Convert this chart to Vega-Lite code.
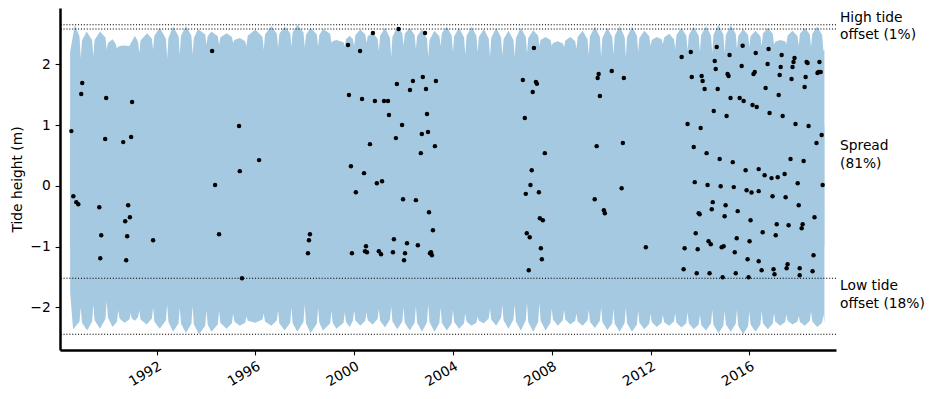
{
  "$schema": "https://vega.github.io/schema/vega-lite/v6.json",
  "width": 776,
  "height": 342,
  "autosize": {"type": "none"},
  "padding": {"left": 60, "top": 8, "right": 100, "bottom": 49},
  "config": {"view": {"stroke": null}, "font": "DejaVu Sans"},
  "datasets": {
    "top": [
      {"t": 1988.50, "hi": 2.20}, {"t": 1988.69, "hi": 2.65},
      {"t": 1988.88, "hi": 2.46}, {"t": 1988.93, "hi": 2.10}, {"t": 1988.98, "hi": 2.39}, {"t": 1989.17, "hi": 2.54},
      {"t": 1989.39, "hi": 2.40}, {"t": 1989.44, "hi": 2.13}, {"t": 1989.49, "hi": 2.40}, {"t": 1989.71, "hi": 2.54},
      {"t": 1989.93, "hi": 2.44}, {"t": 1989.98, "hi": 2.24}, {"t": 1990.03, "hi": 2.35}, {"t": 1990.22, "hi": 2.41},
      {"t": 1990.35, "hi": 2.33}, {"t": 1990.40, "hi": 2.26}, {"t": 1990.45, "hi": 2.29}, {"t": 1990.65, "hi": 2.31},
      {"t": 1990.90, "hi": 2.30}, {"t": 1991.12, "hi": 2.47},
      {"t": 1991.25, "hi": 2.37}, {"t": 1991.30, "hi": 2.18}, {"t": 1991.35, "hi": 2.39}, {"t": 1991.62, "hi": 2.51},
      {"t": 1991.81, "hi": 2.42}, {"t": 1991.86, "hi": 2.24}, {"t": 1991.91, "hi": 2.47}, {"t": 1992.13, "hi": 2.60},
      {"t": 1992.38, "hi": 2.42}, {"t": 1992.43, "hi": 2.09}, {"t": 1992.48, "hi": 2.43}, {"t": 1992.67, "hi": 2.62},
      {"t": 1992.89, "hi": 2.46}, {"t": 1992.94, "hi": 2.16}, {"t": 1992.99, "hi": 2.47}, {"t": 1993.19, "hi": 2.63},
      {"t": 1993.41, "hi": 2.47}, {"t": 1993.46, "hi": 2.16}, {"t": 1993.51, "hi": 2.43}, {"t": 1993.68, "hi": 2.58},
      {"t": 1993.97, "hi": 2.49}, {"t": 1994.02, "hi": 2.32}, {"t": 1994.07, "hi": 2.46}, {"t": 1994.22, "hi": 2.54},
      {"t": 1994.48, "hi": 2.46}, {"t": 1994.53, "hi": 2.32}, {"t": 1994.58, "hi": 2.44}, {"t": 1994.83, "hi": 2.51},
      {"t": 1995.05, "hi": 2.45}, {"t": 1995.10, "hi": 2.35}, {"t": 1995.15, "hi": 2.40}, {"t": 1995.37, "hi": 2.43},
      {"t": 1995.59, "hi": 2.38}, {"t": 1995.64, "hi": 2.29}, {"t": 1995.69, "hi": 2.47}, {"t": 1996.00, "hi": 2.57},
      {"t": 1996.29, "hi": 2.45}, {"t": 1996.34, "hi": 2.24}, {"t": 1996.39, "hi": 2.49}, {"t": 1996.65, "hi": 2.63},
      {"t": 1996.87, "hi": 2.50}, {"t": 1996.92, "hi": 2.27}, {"t": 1996.97, "hi": 2.50}, {"t": 1997.19, "hi": 2.62},
      {"t": 1997.41, "hi": 2.51}, {"t": 1997.46, "hi": 2.29}, {"t": 1997.51, "hi": 2.52}, {"t": 1997.70, "hi": 2.65},
      {"t": 1997.95, "hi": 2.52}, {"t": 1998.00, "hi": 2.27}, {"t": 1998.05, "hi": 2.48}, {"t": 1998.23, "hi": 2.60},
      {"t": 1998.49, "hi": 2.49}, {"t": 1998.54, "hi": 2.29}, {"t": 1998.59, "hi": 2.48}, {"t": 1998.74, "hi": 2.58},
      {"t": 1999.03, "hi": 2.50}, {"t": 1999.08, "hi": 2.35}, {"t": 1999.13, "hi": 2.38}, {"t": 1999.28, "hi": 2.40},
      {"t": 1999.57, "hi": 2.36}, {"t": 1999.62, "hi": 2.29}, {"t": 1999.67, "hi": 2.41}, {"t": 1999.82, "hi": 2.47},
      {"t": 1999.95, "hi": 2.41}, {"t": 2000.00, "hi": 2.30}, {"t": 2000.05, "hi": 2.48}, {"t": 2000.25, "hi": 2.57},
      {"t": 2000.45, "hi": 2.49}, {"t": 2000.50, "hi": 2.35}, {"t": 2000.55, "hi": 2.46}, {"t": 2000.75, "hi": 2.52},
      {"t": 2000.95, "hi": 2.42}, {"t": 2001.00, "hi": 2.22}, {"t": 2001.05, "hi": 2.47}, {"t": 2001.25, "hi": 2.60},
      {"t": 2001.45, "hi": 2.43}, {"t": 2001.50, "hi": 2.12}, {"t": 2001.55, "hi": 2.45}, {"t": 2001.75, "hi": 2.62},
      {"t": 2001.95, "hi": 2.51}, {"t": 2002.00, "hi": 2.30}, {"t": 2002.05, "hi": 2.50}, {"t": 2002.25, "hi": 2.60},
      {"t": 2002.45, "hi": 2.48}, {"t": 2002.50, "hi": 2.25}, {"t": 2002.55, "hi": 2.46}, {"t": 2002.75, "hi": 2.58},
      {"t": 2002.95, "hi": 2.42}, {"t": 2003.00, "hi": 2.12}, {"t": 2003.05, "hi": 2.40}, {"t": 2003.25, "hi": 2.55},
      {"t": 2003.45, "hi": 2.46}, {"t": 2003.50, "hi": 2.30}, {"t": 2003.55, "hi": 2.51}, {"t": 2003.75, "hi": 2.62},
      {"t": 2003.95, "hi": 2.47}, {"t": 2004.00, "hi": 2.20}, {"t": 2004.05, "hi": 2.46}, {"t": 2004.25, "hi": 2.60},
      {"t": 2004.45, "hi": 2.44}, {"t": 2004.50, "hi": 2.15}, {"t": 2004.55, "hi": 2.46}, {"t": 2004.75, "hi": 2.62},
      {"t": 2004.95, "hi": 2.47}, {"t": 2005.00, "hi": 2.20}, {"t": 2005.05, "hi": 2.45}, {"t": 2005.25, "hi": 2.58},
      {"t": 2005.45, "hi": 2.42}, {"t": 2005.50, "hi": 2.12}, {"t": 2005.55, "hi": 2.43}, {"t": 2005.75, "hi": 2.60},
      {"t": 2005.95, "hi": 2.44}, {"t": 2006.00, "hi": 2.14}, {"t": 2006.05, "hi": 2.41}, {"t": 2006.25, "hi": 2.55},
      {"t": 2006.45, "hi": 2.40}, {"t": 2006.50, "hi": 2.12}, {"t": 2006.55, "hi": 2.43}, {"t": 2006.75, "hi": 2.60},
      {"t": 2006.95, "hi": 2.45}, {"t": 2007.00, "hi": 2.18}, {"t": 2007.05, "hi": 2.43}, {"t": 2007.25, "hi": 2.56},
      {"t": 2007.45, "hi": 2.47}, {"t": 2007.50, "hi": 2.30}, {"t": 2007.55, "hi": 2.40}, {"t": 2007.75, "hi": 2.45},
      {"t": 2007.95, "hi": 2.40}, {"t": 2008.00, "hi": 2.30}, {"t": 2008.05, "hi": 2.35}, {"t": 2008.25, "hi": 2.38},
      {"t": 2008.45, "hi": 2.34}, {"t": 2008.50, "hi": 2.28}, {"t": 2008.55, "hi": 2.39}, {"t": 2008.75, "hi": 2.45},
      {"t": 2008.95, "hi": 2.38}, {"t": 2009.00, "hi": 2.25}, {"t": 2009.05, "hi": 2.45}, {"t": 2009.25, "hi": 2.55},
      {"t": 2009.45, "hi": 2.41}, {"t": 2009.50, "hi": 2.15}, {"t": 2009.55, "hi": 2.46}, {"t": 2009.75, "hi": 2.62},
      {"t": 2009.95, "hi": 2.45}, {"t": 2010.00, "hi": 2.12}, {"t": 2010.05, "hi": 2.43}, {"t": 2010.25, "hi": 2.60},
      {"t": 2010.45, "hi": 2.45}, {"t": 2010.50, "hi": 2.16}, {"t": 2010.55, "hi": 2.47}, {"t": 2010.75, "hi": 2.63},
      {"t": 2010.95, "hi": 2.45}, {"t": 2011.00, "hi": 2.12}, {"t": 2011.05, "hi": 2.45}, {"t": 2011.25, "hi": 2.62},
      {"t": 2011.45, "hi": 2.47}, {"t": 2011.50, "hi": 2.20}, {"t": 2011.55, "hi": 2.43}, {"t": 2011.75, "hi": 2.55},
      {"t": 2011.95, "hi": 2.46}, {"t": 2012.00, "hi": 2.30}, {"t": 2012.05, "hi": 2.40}, {"t": 2012.25, "hi": 2.45},
      {"t": 2012.45, "hi": 2.41}, {"t": 2012.50, "hi": 2.33}, {"t": 2012.55, "hi": 2.44}, {"t": 2012.75, "hi": 2.50},
      {"t": 2012.95, "hi": 2.41}, {"t": 2013.00, "hi": 2.25}, {"t": 2013.05, "hi": 2.48}, {"t": 2013.25, "hi": 2.60},
      {"t": 2013.45, "hi": 2.47}, {"t": 2013.50, "hi": 2.22}, {"t": 2013.55, "hi": 2.48}, {"t": 2013.75, "hi": 2.62},
      {"t": 2013.95, "hi": 2.47}, {"t": 2014.00, "hi": 2.20}, {"t": 2014.05, "hi": 2.48}, {"t": 2014.25, "hi": 2.63},
      {"t": 2014.45, "hi": 2.47}, {"t": 2014.50, "hi": 2.18}, {"t": 2014.55, "hi": 2.49}, {"t": 2014.75, "hi": 2.65},
      {"t": 2014.95, "hi": 2.49}, {"t": 2015.00, "hi": 2.19}, {"t": 2015.05, "hi": 2.48}, {"t": 2015.25, "hi": 2.64},
      {"t": 2015.45, "hi": 2.50}, {"t": 2015.50, "hi": 2.25}, {"t": 2015.55, "hi": 2.46}, {"t": 2015.75, "hi": 2.58},
      {"t": 2015.95, "hi": 2.48}, {"t": 2016.00, "hi": 2.28}, {"t": 2016.05, "hi": 2.46}, {"t": 2016.25, "hi": 2.55},
      {"t": 2016.45, "hi": 2.46}, {"t": 2016.50, "hi": 2.30}, {"t": 2016.55, "hi": 2.50}, {"t": 2016.75, "hi": 2.60},
      {"t": 2016.95, "hi": 2.50}, {"t": 2017.00, "hi": 2.32}, {"t": 2017.05, "hi": 2.37}, {"t": 2017.25, "hi": 2.40},
      {"t": 2017.45, "hi": 2.38}, {"t": 2017.50, "hi": 2.33}, {"t": 2017.55, "hi": 2.47}, {"t": 2017.75, "hi": 2.55},
      {"t": 2017.95, "hi": 2.46}, {"t": 2018.00, "hi": 2.30}, {"t": 2018.05, "hi": 2.50}, {"t": 2018.25, "hi": 2.60},
      {"t": 2018.45, "hi": 2.49}, {"t": 2018.50, "hi": 2.28}, {"t": 2018.55, "hi": 2.50}, {"t": 2018.75, "hi": 2.62},
      {"t": 2018.95, "hi": 2.48}, {"t": 2019.00, "hi": 2.22}, {"t": 2019.04, "hi": 2.24}
    ],
    "bot": [
      {"t": 1988.50, "lo": -1.75}, {"t": 1988.62, "lo": -2.36},
      {"t": 1988.88, "lo": -2.23}, {"t": 1988.93, "lo": -2.00}, {"t": 1988.98, "lo": -2.25}, {"t": 1989.19, "lo": -2.38},
      {"t": 1989.39, "lo": -2.23}, {"t": 1989.44, "lo": -1.95}, {"t": 1989.49, "lo": -2.21}, {"t": 1989.71, "lo": -2.35},
      {"t": 1989.93, "lo": -2.19}, {"t": 1989.98, "lo": -1.90}, {"t": 1990.03, "lo": -2.17}, {"t": 1990.22, "lo": -2.32},
      {"t": 1990.40, "lo": -2.23}, {"t": 1990.45, "lo": -2.05}, {"t": 1990.50, "lo": -2.18}, {"t": 1990.70, "lo": -2.25},
      {"t": 1990.90, "lo": -2.20}, {"t": 1990.95, "lo": -2.10}, {"t": 1991.00, "lo": -2.18}, {"t": 1991.12, "lo": -2.22},
      {"t": 1991.25, "lo": -2.16}, {"t": 1991.30, "lo": -2.05}, {"t": 1991.35, "lo": -2.20}, {"t": 1991.60, "lo": -2.28},
      {"t": 1991.81, "lo": -2.18}, {"t": 1991.86, "lo": -2.00}, {"t": 1991.91, "lo": -2.23}, {"t": 1992.13, "lo": -2.35},
      {"t": 1992.38, "lo": -2.21}, {"t": 1992.43, "lo": -1.95}, {"t": 1992.48, "lo": -2.24}, {"t": 1992.67, "lo": -2.40},
      {"t": 1992.89, "lo": -2.26}, {"t": 1992.94, "lo": -2.00}, {"t": 1992.99, "lo": -2.27}, {"t": 1993.19, "lo": -2.42},
      {"t": 1993.41, "lo": -2.27}, {"t": 1993.46, "lo": -1.98}, {"t": 1993.51, "lo": -2.28}, {"t": 1993.72, "lo": -2.44},
      {"t": 1993.97, "lo": -2.30}, {"t": 1994.02, "lo": -2.05}, {"t": 1994.07, "lo": -2.28}, {"t": 1994.22, "lo": -2.40},
      {"t": 1994.48, "lo": -2.28}, {"t": 1994.53, "lo": -2.05}, {"t": 1994.58, "lo": -2.25}, {"t": 1994.83, "lo": -2.35},
      {"t": 1995.05, "lo": -2.26}, {"t": 1995.10, "lo": -2.10}, {"t": 1995.15, "lo": -2.23}, {"t": 1995.37, "lo": -2.30},
      {"t": 1995.59, "lo": -2.25}, {"t": 1995.64, "lo": -2.15}, {"t": 1995.69, "lo": -2.22}, {"t": 1996.00, "lo": -2.25},
      {"t": 1996.29, "lo": -2.20}, {"t": 1996.34, "lo": -2.10}, {"t": 1996.39, "lo": -2.23}, {"t": 1996.65, "lo": -2.30},
      {"t": 1996.87, "lo": -2.21}, {"t": 1996.92, "lo": -2.05}, {"t": 1996.97, "lo": -2.26}, {"t": 1997.19, "lo": -2.38},
      {"t": 1997.41, "lo": -2.25}, {"t": 1997.46, "lo": -2.00}, {"t": 1997.51, "lo": -2.26}, {"t": 1997.70, "lo": -2.40},
      {"t": 1997.95, "lo": -2.24}, {"t": 1998.00, "lo": -1.95}, {"t": 1998.05, "lo": -2.26}, {"t": 1998.23, "lo": -2.42},
      {"t": 1998.49, "lo": -2.27}, {"t": 1998.54, "lo": -2.00}, {"t": 1998.59, "lo": -2.25}, {"t": 1998.74, "lo": -2.38},
      {"t": 1999.03, "lo": -2.26}, {"t": 1999.08, "lo": -2.05}, {"t": 1999.13, "lo": -2.25}, {"t": 1999.28, "lo": -2.35},
      {"t": 1999.57, "lo": -2.25}, {"t": 1999.62, "lo": -2.08}, {"t": 1999.67, "lo": -2.24}, {"t": 1999.82, "lo": -2.32},
      {"t": 1999.95, "lo": -2.22}, {"t": 2000.00, "lo": -2.05}, {"t": 2000.05, "lo": -2.21}, {"t": 2000.25, "lo": -2.30},
      {"t": 2000.45, "lo": -2.22}, {"t": 2000.50, "lo": -2.08}, {"t": 2000.55, "lo": -2.21}, {"t": 2000.75, "lo": -2.28},
      {"t": 2000.95, "lo": -2.19}, {"t": 2001.00, "lo": -2.02}, {"t": 2001.05, "lo": -2.22}, {"t": 2001.25, "lo": -2.33},
      {"t": 2001.45, "lo": -2.20}, {"t": 2001.50, "lo": -1.98}, {"t": 2001.55, "lo": -2.23}, {"t": 2001.75, "lo": -2.36},
      {"t": 2001.95, "lo": -2.23}, {"t": 2002.00, "lo": -2.00}, {"t": 2002.05, "lo": -2.25}, {"t": 2002.25, "lo": -2.38},
      {"t": 2002.45, "lo": -2.25}, {"t": 2002.50, "lo": -1.98}, {"t": 2002.55, "lo": -2.25}, {"t": 2002.75, "lo": -2.40},
      {"t": 2002.95, "lo": -2.24}, {"t": 2003.00, "lo": -1.95}, {"t": 2003.05, "lo": -2.24}, {"t": 2003.25, "lo": -2.40},
      {"t": 2003.45, "lo": -2.26}, {"t": 2003.50, "lo": -2.00}, {"t": 2003.55, "lo": -2.25}, {"t": 2003.75, "lo": -2.38},
      {"t": 2003.95, "lo": -2.26}, {"t": 2004.00, "lo": -2.04}, {"t": 2004.05, "lo": -2.24}, {"t": 2004.25, "lo": -2.35},
      {"t": 2004.45, "lo": -2.26}, {"t": 2004.50, "lo": -2.10}, {"t": 2004.55, "lo": -2.23}, {"t": 2004.75, "lo": -2.30},
      {"t": 2004.95, "lo": -2.25}, {"t": 2005.00, "lo": -2.15}, {"t": 2005.05, "lo": -2.22}, {"t": 2005.25, "lo": -2.26},
      {"t": 2005.45, "lo": -2.18}, {"t": 2005.50, "lo": -2.02}, {"t": 2005.55, "lo": -2.20}, {"t": 2005.75, "lo": -2.30},
      {"t": 2005.95, "lo": -2.17}, {"t": 2006.00, "lo": -1.96}, {"t": 2006.05, "lo": -2.21}, {"t": 2006.25, "lo": -2.35},
      {"t": 2006.45, "lo": -2.20}, {"t": 2006.50, "lo": -1.95}, {"t": 2006.55, "lo": -2.23}, {"t": 2006.75, "lo": -2.38},
      {"t": 2006.95, "lo": -2.21}, {"t": 2007.00, "lo": -1.93}, {"t": 2007.05, "lo": -2.24}, {"t": 2007.25, "lo": -2.40},
      {"t": 2007.45, "lo": -2.24}, {"t": 2007.50, "lo": -1.93}, {"t": 2007.55, "lo": -2.22}, {"t": 2007.75, "lo": -2.38},
      {"t": 2007.95, "lo": -2.25}, {"t": 2008.00, "lo": -2.02}, {"t": 2008.05, "lo": -2.20}, {"t": 2008.25, "lo": -2.30},
      {"t": 2008.45, "lo": -2.21}, {"t": 2008.50, "lo": -2.04}, {"t": 2008.55, "lo": -2.20}, {"t": 2008.75, "lo": -2.28},
      {"t": 2008.95, "lo": -2.22}, {"t": 2009.00, "lo": -2.10}, {"t": 2009.05, "lo": -2.23}, {"t": 2009.25, "lo": -2.30},
      {"t": 2009.45, "lo": -2.21}, {"t": 2009.50, "lo": -2.04}, {"t": 2009.55, "lo": -2.24}, {"t": 2009.75, "lo": -2.34},
      {"t": 2009.95, "lo": -2.22}, {"t": 2010.00, "lo": -2.00}, {"t": 2010.05, "lo": -2.24}, {"t": 2010.25, "lo": -2.37},
      {"t": 2010.45, "lo": -2.26}, {"t": 2010.50, "lo": -2.02}, {"t": 2010.55, "lo": -2.27}, {"t": 2010.75, "lo": -2.40},
      {"t": 2010.95, "lo": -2.26}, {"t": 2011.00, "lo": -2.00}, {"t": 2011.05, "lo": -2.26}, {"t": 2011.25, "lo": -2.40},
      {"t": 2011.45, "lo": -2.28}, {"t": 2011.50, "lo": -2.05}, {"t": 2011.55, "lo": -2.25}, {"t": 2011.75, "lo": -2.36},
      {"t": 2011.95, "lo": -2.27}, {"t": 2012.00, "lo": -2.10}, {"t": 2012.05, "lo": -2.24}, {"t": 2012.25, "lo": -2.32},
      {"t": 2012.45, "lo": -2.25}, {"t": 2012.50, "lo": -2.12}, {"t": 2012.55, "lo": -2.24}, {"t": 2012.75, "lo": -2.30},
      {"t": 2012.95, "lo": -2.23}, {"t": 2013.00, "lo": -2.10}, {"t": 2013.05, "lo": -2.25}, {"t": 2013.25, "lo": -2.33},
      {"t": 2013.45, "lo": -2.26}, {"t": 2013.50, "lo": -2.08}, {"t": 2013.55, "lo": -2.26}, {"t": 2013.75, "lo": -2.36},
      {"t": 2013.95, "lo": -2.28}, {"t": 2014.00, "lo": -2.12}, {"t": 2014.05, "lo": -2.29}, {"t": 2014.25, "lo": -2.38},
      {"t": 2014.45, "lo": -2.26}, {"t": 2014.50, "lo": -2.04}, {"t": 2014.55, "lo": -2.29}, {"t": 2014.75, "lo": -2.42},
      {"t": 2014.95, "lo": -2.30}, {"t": 2015.00, "lo": -2.06}, {"t": 2015.05, "lo": -2.28}, {"t": 2015.25, "lo": -2.40},
      {"t": 2015.45, "lo": -2.27}, {"t": 2015.50, "lo": -2.04}, {"t": 2015.55, "lo": -2.30}, {"t": 2015.75, "lo": -2.44},
      {"t": 2015.95, "lo": -2.31}, {"t": 2016.00, "lo": -2.07}, {"t": 2016.05, "lo": -2.28}, {"t": 2016.25, "lo": -2.40},
      {"t": 2016.45, "lo": -2.28}, {"t": 2016.50, "lo": -2.06}, {"t": 2016.55, "lo": -2.26}, {"t": 2016.75, "lo": -2.36},
      {"t": 2016.95, "lo": -2.27}, {"t": 2017.00, "lo": -2.10}, {"t": 2017.05, "lo": -2.23}, {"t": 2017.25, "lo": -2.30},
      {"t": 2017.45, "lo": -2.24}, {"t": 2017.50, "lo": -2.12}, {"t": 2017.55, "lo": -2.22}, {"t": 2017.75, "lo": -2.28},
      {"t": 2017.95, "lo": -2.23}, {"t": 2018.00, "lo": -2.14}, {"t": 2018.05, "lo": -2.24}, {"t": 2018.25, "lo": -2.30},
      {"t": 2018.45, "lo": -2.22}, {"t": 2018.50, "lo": -2.07}, {"t": 2018.55, "lo": -2.23}, {"t": 2018.75, "lo": -2.32},
      {"t": 2018.95, "lo": -2.25}, {"t": 2019.00, "lo": -2.12}, {"t": 2019.04, "lo": -2.26}
    ],
    "lines": [{"v": 2.650}, {"v": 2.579}, {"v": -1.519}, {"v": -2.441}],
    "labels": [
      {"v": 2.763, "txt": ["High tide", "offset (1%)"]},
      {"v": 0.653, "txt": ["Spread", "(81%)"]},
      {"v": -1.648, "txt": ["Low tide", "offset (18%)"]}
    ],
    "obs": [
      {"t": 1988.99, "h": 1.691}, {"t": 1988.95, "h": 1.509}, {"t": 1989.96, "h": 1.444}, {"t": 1991.01, "h": 1.378},
      {"t": 1988.55, "h": 0.900}, {"t": 1989.92, "h": 0.769}, {"t": 1990.65, "h": 0.719}, {"t": 1990.97, "h": 0.802},
      {"t": 1988.63, "h": -0.170}, {"t": 1988.75, "h": -0.268}, {"t": 1988.83, "h": -0.301}, {"t": 1989.68, "h": -0.351},
      {"t": 1990.85, "h": -0.318}, {"t": 1990.92, "h": -0.515}, {"t": 1990.73, "h": -0.581}, {"t": 1989.76, "h": -0.812},
      {"t": 1990.81, "h": -0.828}, {"t": 1991.86, "h": -0.894}, {"t": 1989.72, "h": -1.190}, {"t": 1990.77, "h": -1.223},
      {"t": 1994.25, "h": 2.217}, {"t": 1995.34, "h": 0.983}, {"t": 1996.15, "h": 0.423}, {"t": 1995.37, "h": 0.242},
      {"t": 1994.37, "h": 0.012}, {"t": 1994.53, "h": -0.795}, {"t": 1998.21, "h": -0.795}, {"t": 1998.17, "h": -0.894},
      {"t": 1998.13, "h": -1.108}, {"t": 1995.46, "h": -1.519},
      {"t": 2000.76, "h": 2.514}, {"t": 2001.80, "h": 2.579}, {"t": 2002.87, "h": 2.514}, {"t": 1999.75, "h": 2.316},
      {"t": 2000.24, "h": 2.217}, {"t": 2001.73, "h": 1.674}, {"t": 2002.38, "h": 1.723}, {"t": 2002.78, "h": 1.789},
      {"t": 2003.31, "h": 1.723}, {"t": 2002.26, "h": 1.575}, {"t": 2002.91, "h": 1.592}, {"t": 1999.79, "h": 1.493},
      {"t": 2000.32, "h": 1.427}, {"t": 2000.84, "h": 1.394}, {"t": 2001.21, "h": 1.394}, {"t": 2001.37, "h": 1.394},
      {"t": 2001.41, "h": 1.164}, {"t": 2002.95, "h": 1.180}, {"t": 2001.94, "h": 0.999}, {"t": 2001.69, "h": 0.785},
      {"t": 2002.74, "h": 0.851}, {"t": 2002.99, "h": 0.884}, {"t": 2000.64, "h": 0.686}, {"t": 2003.27, "h": 0.653},
      {"t": 2002.70, "h": 0.538}, {"t": 1999.87, "h": 0.324}, {"t": 2000.40, "h": 0.209}, {"t": 2000.92, "h": 0.044},
      {"t": 2001.13, "h": 0.077}, {"t": 2000.07, "h": -0.104}, {"t": 2001.98, "h": -0.219}, {"t": 2002.50, "h": -0.235},
      {"t": 2003.03, "h": -0.433}, {"t": 2003.19, "h": -0.729}, {"t": 2001.61, "h": -0.877}, {"t": 2002.14, "h": -0.943},
      {"t": 2002.58, "h": -0.976}, {"t": 2000.48, "h": -0.993}, {"t": 1999.91, "h": -1.108}, {"t": 2000.44, "h": -1.075},
      {"t": 2000.52, "h": -1.091}, {"t": 2001.00, "h": -1.075}, {"t": 2001.09, "h": -1.124}, {"t": 2001.57, "h": -1.091},
      {"t": 2002.06, "h": -1.108}, {"t": 2002.02, "h": -1.223}, {"t": 2003.07, "h": -1.108}, {"t": 2003.11, "h": -1.091},
      {"t": 2003.15, "h": -1.141},
      {"t": 2007.28, "h": 2.267}, {"t": 2006.83, "h": 1.740}, {"t": 2007.36, "h": 1.707}, {"t": 2007.40, "h": 1.679},
      {"t": 2007.23, "h": 1.542}, {"t": 2006.91, "h": 1.114}, {"t": 2007.72, "h": 0.538}, {"t": 2007.19, "h": 0.258},
      {"t": 2007.14, "h": 0.012}, {"t": 2006.95, "h": -0.132}, {"t": 2007.48, "h": -0.104}, {"t": 2007.52, "h": -0.532},
      {"t": 2007.64, "h": -0.565}, {"t": 2006.99, "h": -0.779}, {"t": 2007.11, "h": -0.844}, {"t": 2007.56, "h": -1.026},
      {"t": 2007.60, "h": -1.207}, {"t": 2007.07, "h": -1.388},
      {"t": 2010.43, "h": 1.888}, {"t": 2009.90, "h": 1.839}, {"t": 2009.86, "h": 1.773}, {"t": 2010.92, "h": 1.773},
      {"t": 2009.95, "h": 1.477}, {"t": 2009.82, "h": 0.653}, {"t": 2010.88, "h": 0.703}, {"t": 2010.83, "h": -0.038},
      {"t": 2009.74, "h": -0.219}, {"t": 2010.11, "h": -0.400}, {"t": 2010.15, "h": -0.449}, {"t": 2011.81, "h": -1.009},
      {"t": 2013.26, "h": 2.119}, {"t": 2013.63, "h": 2.201}, {"t": 2014.68, "h": 2.283}, {"t": 2015.73, "h": 2.305},
      {"t": 2014.60, "h": 2.053}, {"t": 2014.64, "h": 1.921}, {"t": 2015.20, "h": 2.151}, {"t": 2015.69, "h": 1.970},
      {"t": 2016.26, "h": 2.184}, {"t": 2013.67, "h": 1.789}, {"t": 2014.07, "h": 1.806}, {"t": 2014.11, "h": 1.723},
      {"t": 2014.19, "h": 1.592}, {"t": 2014.72, "h": 1.592}, {"t": 2015.12, "h": 1.839}, {"t": 2015.16, "h": 1.806},
      {"t": 2016.22, "h": 1.872}, {"t": 2016.17, "h": 1.839}, {"t": 2015.24, "h": 1.444}, {"t": 2015.61, "h": 1.444},
      {"t": 2015.77, "h": 1.394}, {"t": 2016.13, "h": 1.328}, {"t": 2016.30, "h": 1.295}, {"t": 2014.56, "h": 1.230},
      {"t": 2015.08, "h": 1.147}, {"t": 2013.50, "h": 1.016}, {"t": 2014.03, "h": 0.950}, {"t": 2013.75, "h": 0.637},
      {"t": 2014.27, "h": 0.538}, {"t": 2014.80, "h": 0.440}, {"t": 2015.33, "h": 0.390}, {"t": 2015.85, "h": 0.258},
      {"t": 2016.38, "h": 0.275}, {"t": 2013.79, "h": 0.061}, {"t": 2014.31, "h": 0.012}, {"t": 2014.84, "h": -0.005},
      {"t": 2015.37, "h": -0.021}, {"t": 2015.89, "h": -0.071}, {"t": 2016.09, "h": -0.110}, {"t": 2016.38, "h": -0.087},
      {"t": 2014.52, "h": -0.268}, {"t": 2014.48, "h": -0.384}, {"t": 2015.04, "h": -0.318}, {"t": 2015.53, "h": -0.416},
      {"t": 2013.95, "h": -0.449}, {"t": 2013.99, "h": -0.466}, {"t": 2015.00, "h": -0.499}, {"t": 2016.05, "h": -0.565},
      {"t": 2013.83, "h": -0.779}, {"t": 2014.35, "h": -0.910}, {"t": 2014.44, "h": -0.960}, {"t": 2015.49, "h": -0.861},
      {"t": 2016.01, "h": -0.910}, {"t": 2013.38, "h": -1.026}, {"t": 2013.91, "h": -1.042}, {"t": 2014.88, "h": -1.009},
      {"t": 2014.96, "h": -0.993}, {"t": 2015.41, "h": -1.091}, {"t": 2015.93, "h": -1.207}, {"t": 2013.34, "h": -1.371},
      {"t": 2013.87, "h": -1.437}, {"t": 2014.39, "h": -1.437}, {"t": 2014.92, "h": -1.503}, {"t": 2015.45, "h": -1.437},
      {"t": 2015.97, "h": -1.503}, {"t": 2016.38, "h": -1.240},
      {"t": 2016.78, "h": 2.250}, {"t": 2017.31, "h": 2.151}, {"t": 2017.83, "h": 2.102}, {"t": 2017.79, "h": 2.036},
      {"t": 2017.75, "h": 1.954}, {"t": 2018.32, "h": 2.036}, {"t": 2018.36, "h": 2.020}, {"t": 2018.84, "h": 2.036},
      {"t": 2016.74, "h": 2.003}, {"t": 2017.27, "h": 1.954}, {"t": 2017.23, "h": 1.822}, {"t": 2017.71, "h": 1.756},
      {"t": 2018.28, "h": 1.789}, {"t": 2018.24, "h": 1.625}, {"t": 2018.76, "h": 1.855}, {"t": 2018.80, "h": 1.872},
      {"t": 2018.89, "h": 1.872}, {"t": 2016.66, "h": 1.608}, {"t": 2017.19, "h": 1.493}, {"t": 2016.82, "h": 1.197},
      {"t": 2017.35, "h": 1.147}, {"t": 2017.87, "h": 1.016}, {"t": 2018.40, "h": 0.983}, {"t": 2018.93, "h": 0.835},
      {"t": 2018.72, "h": 0.703}, {"t": 2017.67, "h": 0.440}, {"t": 2018.20, "h": 0.407}, {"t": 2016.62, "h": 0.176},
      {"t": 2016.90, "h": 0.127}, {"t": 2017.15, "h": 0.143}, {"t": 2017.43, "h": 0.193}, {"t": 2017.96, "h": 0.044},
      {"t": 2018.97, "h": 0.012}, {"t": 2016.94, "h": -0.170}, {"t": 2017.47, "h": -0.186}, {"t": 2018.00, "h": -0.318},
      {"t": 2018.64, "h": -0.515}, {"t": 2017.11, "h": -0.630}, {"t": 2017.59, "h": -0.647}, {"t": 2018.16, "h": -0.630},
      {"t": 2018.12, "h": -0.696}, {"t": 2016.54, "h": -0.762}, {"t": 2017.07, "h": -0.812}, {"t": 2018.60, "h": -1.141},
      {"t": 2016.50, "h": -1.388}, {"t": 2016.98, "h": -1.371}, {"t": 2017.02, "h": -1.453}, {"t": 2017.51, "h": -1.355},
      {"t": 2017.55, "h": -1.289}, {"t": 2018.04, "h": -1.355}, {"t": 2018.04, "h": -1.470}, {"t": 2018.56, "h": -1.404}
    ]
  },
  "layer": [
    {
      "data": {"name": "top"},
      "mark": {"type": "area", "color": "#a5c9e1", "opacity": 1, "clip": true},
      "encoding": {
        "x": {"field": "t", "type": "quantitative", "scale": {"domain": [1988.09, 2019.51], "nice": false, "zero": false},
          "axis": {"values": [1992, 1996, 2000, 2004, 2008, 2012, 2016], "format": "d", "title": null, "grid": false,
            "labelAngle": -30, "labelAlign": "right", "labelBaseline": "top", "labelFontSize": 13.8, "labelColor": "black",
            "labelPadding": 4, "tickSize": 4.9, "tickWidth": 1.1, "tickColor": "black", "domainColor": "black", "domainWidth": 2.5,
            "labelFont": "DejaVu Sans"}},
        "y": {"field": "hi", "type": "quantitative", "scale": {"domain": [-2.70, 2.925], "nice": false, "zero": false},
          "axis": {"values": [-2, -1, 0, 1, 2], "format": "d", "title": "Tide height (m)", "grid": false,
            "labelFontSize": 13.8, "labelColor": "black", "labelPadding": 4.9, "tickSize": 4.9, "tickWidth": 1.1, "tickColor": "black",
            "domainColor": "black", "domainWidth": 2.5, "titleFontSize": 13.8, "titleFontWeight": "normal", "titleColor": "black",
            "titlePadding": 5, "labelFont": "DejaVu Sans", "titleFont": "DejaVu Sans"}},
        "y2": {"datum": -1}
      }
    },
    {
      "data": {"name": "bot"},
      "mark": {"type": "area", "color": "#a5c9e1", "opacity": 1, "clip": true},
      "encoding": {
        "x": {"field": "t", "type": "quantitative"},
        "y": {"field": "lo", "type": "quantitative"},
        "y2": {"datum": 1}
      }
    },
    {
      "data": {"name": "lines"},
      "mark": {"type": "rule", "color": "black", "strokeWidth": 1.1, "strokeDash": [1.1, 1.8]},
      "encoding": {"y": {"field": "v", "type": "quantitative"}}
    },
    {
      "data": {"name": "obs"},
      "mark": {"type": "circle", "color": "black", "opacity": 1, "size": 20},
      "encoding": {
        "x": {"field": "t", "type": "quantitative"},
        "y": {"field": "h", "type": "quantitative"}
      }
    },
    {
      "data": {"name": "labels"},
      "mark": {"type": "text", "align": "left", "baseline": "middle", "dx": 4, "fontSize": 13.8, "lineHeight": 17.5, "font": "DejaVu Sans", "color": "black"},
      "encoding": {
        "x": {"datum": 2019.51, "type": "quantitative"},
        "y": {"field": "v", "type": "quantitative"},
        "text": {"field": "txt"}
      }
    }
  ]
}
